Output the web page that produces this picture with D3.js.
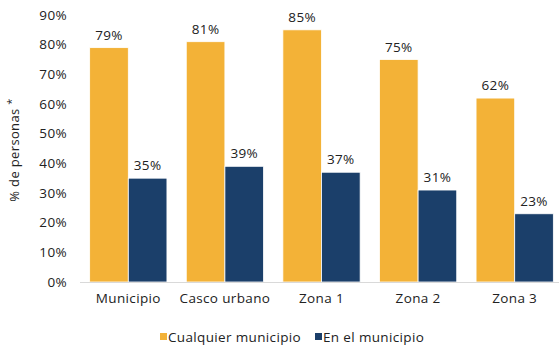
<!DOCTYPE html>
<html>
<head>
<meta charset="utf-8">
<script src="https://cdn.jsdelivr.net/npm/d3@7"></script>
<style>
  body { margin: 0; background: #fff; }
  text { font-family: "Open Sans", sans-serif; fill: #222; letter-spacing: 0.35px; }
</style>
</head>
<body>
<div id="chart"></div>
<script>
const categories = ["Municipio", "Casco urbano", "Zona 1", "Zona 2", "Zona 3"];
const seriesNames = ["Cualquier municipio", "En el municipio"];
const cualquier = [79, 81, 85, 75, 62];
const enMunicipio = [35, 39, 37, 31, 23];
const yTicks = [0, 10, 20, 30, 40, 50, 60, 70, 80, 90];
const colors = ["#F3B237", "#1B3F6A"];

const width = 559, height = 345;
const svg = d3.select("#chart").append("svg")
  .attr("width", width).attr("height", height);

const x = d3.scaleBand().domain(categories).range([80, 563])
  .paddingInner(0.2).paddingOuter(0.1);
const x1 = d3.scaleBand().domain(seriesNames).range([0, x.bandwidth()]);
const y = d3.scaleLinear().domain([0, 90]).range([282, 15]);

// y labels
svg.selectAll(".ytick").data(yTicks).join("text")
  .attr("x", 67).attr("y", d => y(d)).attr("dy", "0.35em")
  .attr("text-anchor", "end").style("font-size", "13.5px")
  .text(d => d + "%");

// axis title
const ttl = svg.append("text")
  .attr("transform", "translate(19,150) rotate(-90)")
  .attr("text-anchor", "middle").style("font-size", "13px");
ttl.append("tspan").text("% de personas ");
ttl.append("tspan").attr("dy", -4).style("font-size", "11px").text("*");

const rows = categories.map((c, i) => ({ cat: c, vals: [cualquier[i], enMunicipio[i]] }));

const g = svg.selectAll(".grp").data(rows).join("g")
  .attr("transform", d => `translate(${x(d.cat)},0)`);

g.selectAll("rect").data(d => d.vals.map((v, k) => ({ v, k })))
  .join("rect")
  .attr("x", d => x1(seriesNames[d.k]))
  .attr("y", d => y(d.v))
  .attr("width", x1.bandwidth())
  .attr("height", d => y(0) - y(d.v))
  .attr("fill", d => colors[d.k])
  .attr("stroke", "#fff").attr("stroke-width", 0.8);

g.selectAll(".lbl").data(d => d.vals.map((v, k) => ({ v, k })))
  .join("text")
  .attr("x", d => x1(seriesNames[d.k]) + x1.bandwidth() / 2)
  .attr("y", d => y(d.v) - 8)
  .attr("text-anchor", "middle").style("font-size", "13.5px")
  .text(d => d.v + "%");

// baseline
svg.append("line").attr("x1", 80).attr("x2", 559)
  .attr("y1", y(0) + 0.5).attr("y2", y(0) + 0.5)
  .attr("stroke", "#d9d9d9").attr("stroke-width", 1);

// x labels
svg.selectAll(".xl").data(categories).join("text")
  .attr("x", d => x(d) + x.bandwidth() / 2).attr("y", 303)
  .attr("text-anchor", "middle").style("font-size", "13.5px")
  .text(d => d);

// legend
const legX = [160, 315];
const leg = svg.selectAll(".leg").data(seriesNames).join("g")
  .attr("transform", (d, i) => `translate(${legX[i]},333)`);
leg.append("rect").attr("width", 7).attr("height", 7).attr("y", 0)
  .attr("fill", (d, i) => colors[i]);
leg.append("text").attr("x", 8).attr("y", 4).attr("dy", "0.35em")
  .style("font-size", "13.5px").text(d => d);
</script>
</body>
</html>
